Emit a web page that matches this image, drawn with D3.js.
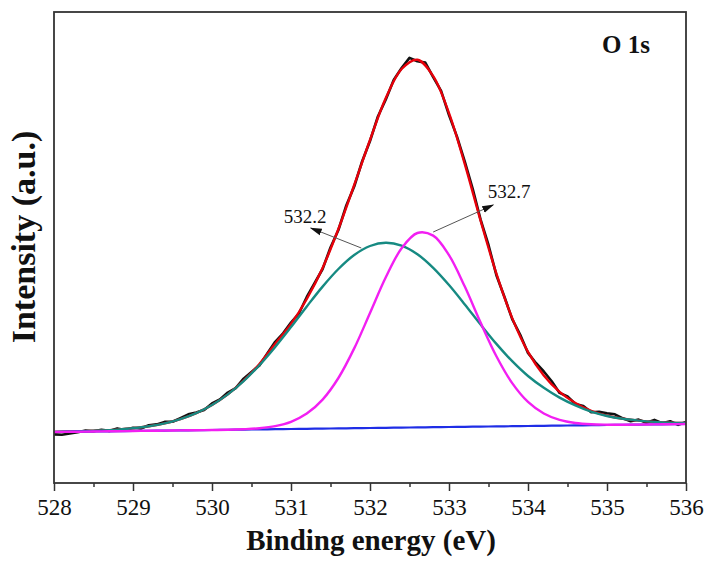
<!DOCTYPE html>
<html>
<head>
<meta charset="utf-8">
<script src="https://cdnjs.cloudflare.com/ajax/libs/d3/7.8.5/d3.min.js"></script>
<style>
  body { margin: 0; background: #fff; }
  text { font-family: "Liberation Serif", "Times New Roman", serif; }
</style>
</head>
<body>
<div id="plot"></div>
<script>
// fit curves, sampled every 0.2 eV
var energies = d3.range(41).map(i => +(528 + i * 0.2).toFixed(1));
var baseline = [50.0,50.2,50.4,50.6,50.8,51.0,51.2,51.4,51.6,51.8,52.0,52.2,52.4,52.6,52.8,53.0,53.2,53.4,53.6,53.8,
  54.0,54.2,54.4,54.6,54.8,55.0,55.2,55.4,55.6,55.8,56.0,56.2,56.4,56.6,56.8,57.0,57.2,57.4,57.6,57.8,58.0];
var peak5322 = [50.1,50.5,50.9,51.5,52.4,53.7,55.7,58.6,62.9,68.9,77.0,87.6,100.9,116.8,135.1,155.0,175.6,195.4,213.0,227.0,
  236.0,239.2,236.4,227.8,214.2,197.0,177.6,157.4,138.1,120.8,106.0,94.2,84.4,76.6,70.3,66.0,63.2,61.4,60.1,59.3,59.0];
var peak5327 = [50.0,50.2,50.4,50.6,50.8,51.0,51.2,51.4,51.6,51.8,52.0,52.2,52.8,53.8,55.9,60.2,68.4,82.4,104.0,133.6,
  169.0,204.7,233.7,249.0,246.4,226.9,195.4,159.4,125.8,98.9,80.1,68.5,62.1,59.0,57.7,57.3,57.2,57.4,57.6,57.8,58.0];
var envelope = [50.1,50.5,50.9,51.5,52.4,53.7,55.7,58.6,62.9,68.9,77.0,87.6,101.3,118.0,138.2,158.0,183.0,214.0,253.0,297.0,
  342.0,384.0,413.0,422.2,405.8,368.9,317.8,261.4,208.3,163.9,130.1,106.5,90.1,79.0,71.2,66.3,63.2,61.4,60.1,59.3,59.0];

// measured spectrum, every 0.1 eV
var rawEnergies = d3.range(81).map(i => +(528 + i * 0.1).toFixed(1));
var rawCounts = [47.6,47.3,48.5,49.7,51.4,50.7,52.3,51.1,53.6,52.0,
  54.3,53.5,56.7,57.6,60.1,60.2,63.9,67.7,69.4,71.9,
  78.5,82.5,89.4,93.9,103.3,110.1,116.5,128.5,140.2,148.7,
  159.5,168.5,185.0,199.0,213.0,234.5,252.0,276.5,295.5,320.5,
  341.0,365.5,382.5,402.0,414.0,424.1,420.7,419.4,404.8,391.1,
  366.9,345.6,320.3,293.2,262.4,237.0,206.8,185.5,162.9,147.5,
  129.1,119.0,110.5,100.7,89.1,85.5,78.0,76.1,69.7,70.2,
  68.8,67.7,63.7,60.8,62.4,59.2,62.1,58.7,60.8,57.1,60.0];

var xTicks = [528, 529, 530, 531, 532, 533, 534, 535, 536];
var minorTicks = [528.5, 529.5, 530.5, 531.5, 532.5, 533.5, 534.5, 535.5];

// peak labels: text position and arrow from curve towards text
var labels = [
  { text: "532.2", tx: 531.18, ty: 259, x1: 531.89, y1: 234, x2: 531.25, y2: 254 },
  { text: "532.7", tx: 533.76, ty: 284, x1: 532.80, y1: 250, x2: 533.56, y2: 277 }
];

var svgWidth = 712;
var svgHeight = 562;
var margin = { top: 12, right: 26, bottom: 79, left: 54 };
var width = svgWidth - margin.left - margin.right;
var height = svgHeight - margin.top - margin.bottom;

var svg = d3.select("#plot").append("svg")
  .attr("width", svgWidth)
  .attr("height", svgHeight);

var defs = svg.append("defs");
defs.append("marker")
  .attr("id", "arrow")
  .attr("viewBox", "0 0 12 10")
  .attr("refX", 11).attr("refY", 5)
  .attr("markerWidth", 12).attr("markerHeight", 10)
  .attr("markerUnits", "userSpaceOnUse")
  .attr("orient", "auto")
  .append("path")
  .attr("d", "M0,1.5 L12,5 L0,8.5 Z")
  .attr("fill", "#111");

var chartGroup = svg.append("g")
  .attr("transform", `translate(${margin.left}, ${margin.top})`);

var xScale = d3.scaleLinear().domain([528, 536]).range([0, width]);
var yScale = d3.scaleLinear().domain([-1, 470]).range([height, 0]);

function series(xs, ys) {
  return xs.map((x, i) => [x, ys[i]]);
}

var line = d3.line()
  .x(d => xScale(d[0]))
  .y(d => yScale(d[1]))
  .curve(d3.curveCatmullRom);

var rawLine = d3.line()
  .x(d => xScale(d[0]))
  .y(d => yScale(d[1]));

// clip to frame
defs.append("clipPath").attr("id", "clip")
  .append("rect").attr("width", width).attr("height", height);

var curves = chartGroup.append("g").attr("clip-path", "url(#clip)");

curves.append("path")
  .datum(series(rawEnergies, rawCounts))
  .attr("d", rawLine)
  .attr("fill", "none").attr("stroke", "#111").attr("stroke-width", 2.6)
  .attr("stroke-linejoin", "round");

curves.append("path")
  .datum(series(energies, envelope))
  .attr("d", line)
  .attr("fill", "none").attr("stroke", "#e8000a").attr("stroke-width", 2.4);

curves.append("path")
  .datum(series(energies, peak5322))
  .attr("d", line)
  .attr("fill", "none").attr("stroke", "#168a82").attr("stroke-width", 2.4);

curves.append("path")
  .datum(series(energies, baseline))
  .attr("d", line)
  .attr("fill", "none").attr("stroke", "#1f2ee6").attr("stroke-width", 2.2);

curves.append("path")
  .datum(series(energies, peak5327))
  .attr("d", line)
  .attr("fill", "none").attr("stroke", "#f21ff2").attr("stroke-width", 2.4);

// annotations
labels.forEach(function(d) {
  chartGroup.append("line")
    .attr("x1", xScale(d.x1)).attr("y1", yScale(d.y1))
    .attr("x2", xScale(d.x2)).attr("y2", yScale(d.y2))
    .attr("stroke", "#555").attr("stroke-width", 1)
    .attr("marker-end", "url(#arrow)");
  chartGroup.append("text")
    .attr("x", xScale(d.tx)).attr("y", yScale(d.ty))
    .attr("text-anchor", "middle")
    .attr("font-size", "19px")
    .attr("fill", "#111")
    .text(d.text);
});

// frame
chartGroup.append("rect")
  .attr("width", width).attr("height", height)
  .attr("fill", "none").attr("stroke", "#333").attr("stroke-width", 1.8);

// x axis
var bottomAxis = d3.axisBottom(xScale).tickValues(xTicks).tickSize(8).tickPadding(8)
  .tickFormat(d3.format("d"));
var xAxis = chartGroup.append("g")
  .attr("transform", `translate(0, ${height})`)
  .call(bottomAxis);
xAxis.select(".domain").remove();
xAxis.selectAll("line").attr("stroke", "#333").attr("stroke-width", 1.5);
xAxis.selectAll("text").attr("font-size", "23px").attr("fill", "#111");

var minorAxis = d3.axisBottom(xScale).tickValues(minorTicks).tickSize(4).tickFormat("");
var xMinor = chartGroup.append("g")
  .attr("transform", `translate(0, ${height})`)
  .call(minorAxis);
xMinor.select(".domain").remove();
xMinor.selectAll("line").attr("stroke", "#333").attr("stroke-width", 1.5);

// axis titles
chartGroup.append("text")
  .attr("x", width / 2 + 1)
  .attr("y", height + 67)
  .attr("text-anchor", "middle")
  .attr("font-size", "29px")
  .attr("font-weight", "bold")
  .attr("fill", "#111")
  .text("Binding energy (eV)");

chartGroup.append("text")
  .attr("transform", `translate(${-19}, ${225}) rotate(-90)`)
  .attr("text-anchor", "middle")
  .attr("font-size", "34px")
  .attr("font-weight", "bold")
  .attr("fill", "#111")
  .text("Intensity (a.u.)");

chartGroup.append("text")
  .attr("x", width - 36)
  .attr("y", 41)
  .attr("text-anchor", "end")
  .attr("font-size", "25px")
  .attr("font-weight", "bold")
  .attr("fill", "#111")
  .text("O 1s");
</script>
</body>
</html>
